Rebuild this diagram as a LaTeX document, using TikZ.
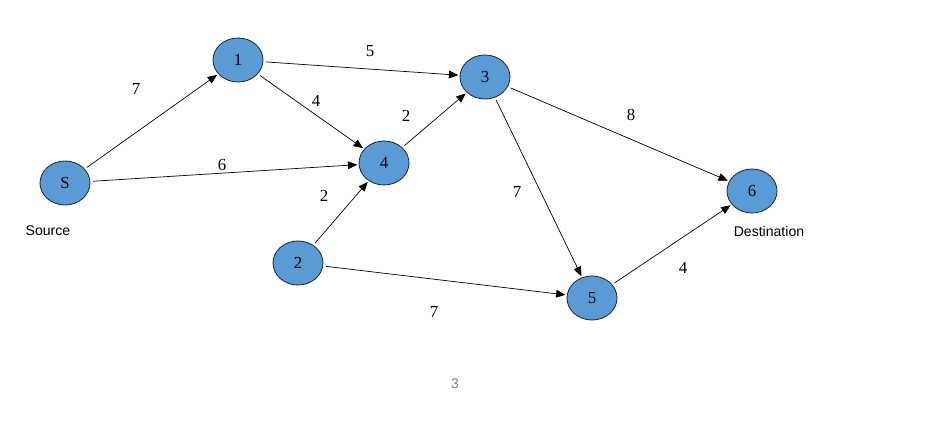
\documentclass[tikz,border=0pt]{standalone}
\usepackage{fontspec}
\setmainfont{Liberation Serif}
\newfontfamily\labelfont{Liberation Sans}
\usetikzlibrary{shapes.geometric, arrows}
\definecolor{nodeblue}{HTML}{5B9BD5}
\definecolor{nodeline}{HTML}{1F2A3A}
\tikzstyle{vertex} = [ellipse, minimum width=1.25cm, minimum height=1.1cm, fill=nodeblue, draw=nodeline, line width=0.6pt, font=\large, inner sep=0pt]
\tikzstyle{link} = [-triangle 45, black, line width=0.5pt, shorten <=2pt, shorten >=1pt]
\tikzstyle{weight} = [font=\large]
\tikzstyle{caption} = [font=\labelfont\normalsize]

\begin{document}
\begin{tikzpicture}[x=0.025cm, y=-0.025cm]
	\useasboundingbox (0,0) rectangle (936,427);
	\node (s) at (65,183) [vertex] {S};
	\node (one) at (238,60) [vertex] {1};
	\node (three) at (485,77) [vertex] {3};
	\node (four) at (384,163) [vertex] {4};
	\node (two) at (298,263) [vertex] {2};
	\node (five) at (592,298) [vertex] {5};
	\node (six) at (752,191) [vertex] {6};

	\draw [link] (s) -- (one);
	\draw [link] (s) -- (four);
	\draw [link] (one) -- (three);
	\draw [link] (one) -- (four);
	\draw [link] (four) -- (three);
	\draw [link] (two) -- (four);
	\draw [link] (two) -- (five);
	\draw [link] (three) -- (five);
	\draw [link] (three) -- (six);
	\draw [link] (five) -- (six);

	\node (w_s1) at (136,89) [weight] {7};
	\node (w_13) at (370,51) [weight] {5};
	\node (w_14) at (316,101) [weight] {4};
	\node (w_43) at (406,116) [weight] {2};
	\node (w_36) at (631,115) [weight] {8};
	\node (w_s4) at (222,165) [weight] {6};
	\node (w_24) at (324,196) [weight] {2};
	\node (w_35) at (517,192) [weight] {7};
	\node (w_25) at (434,312) [weight] {7};
	\node (w_56) at (683,268) [weight] {4};

	\node (source) at (48,231) [caption] {Source};
	\node (dest) at (769,231) [caption] {Destination};
	\node (page) at (455,384) [caption, text=gray] {3};
\end{tikzpicture}
\end{document}
